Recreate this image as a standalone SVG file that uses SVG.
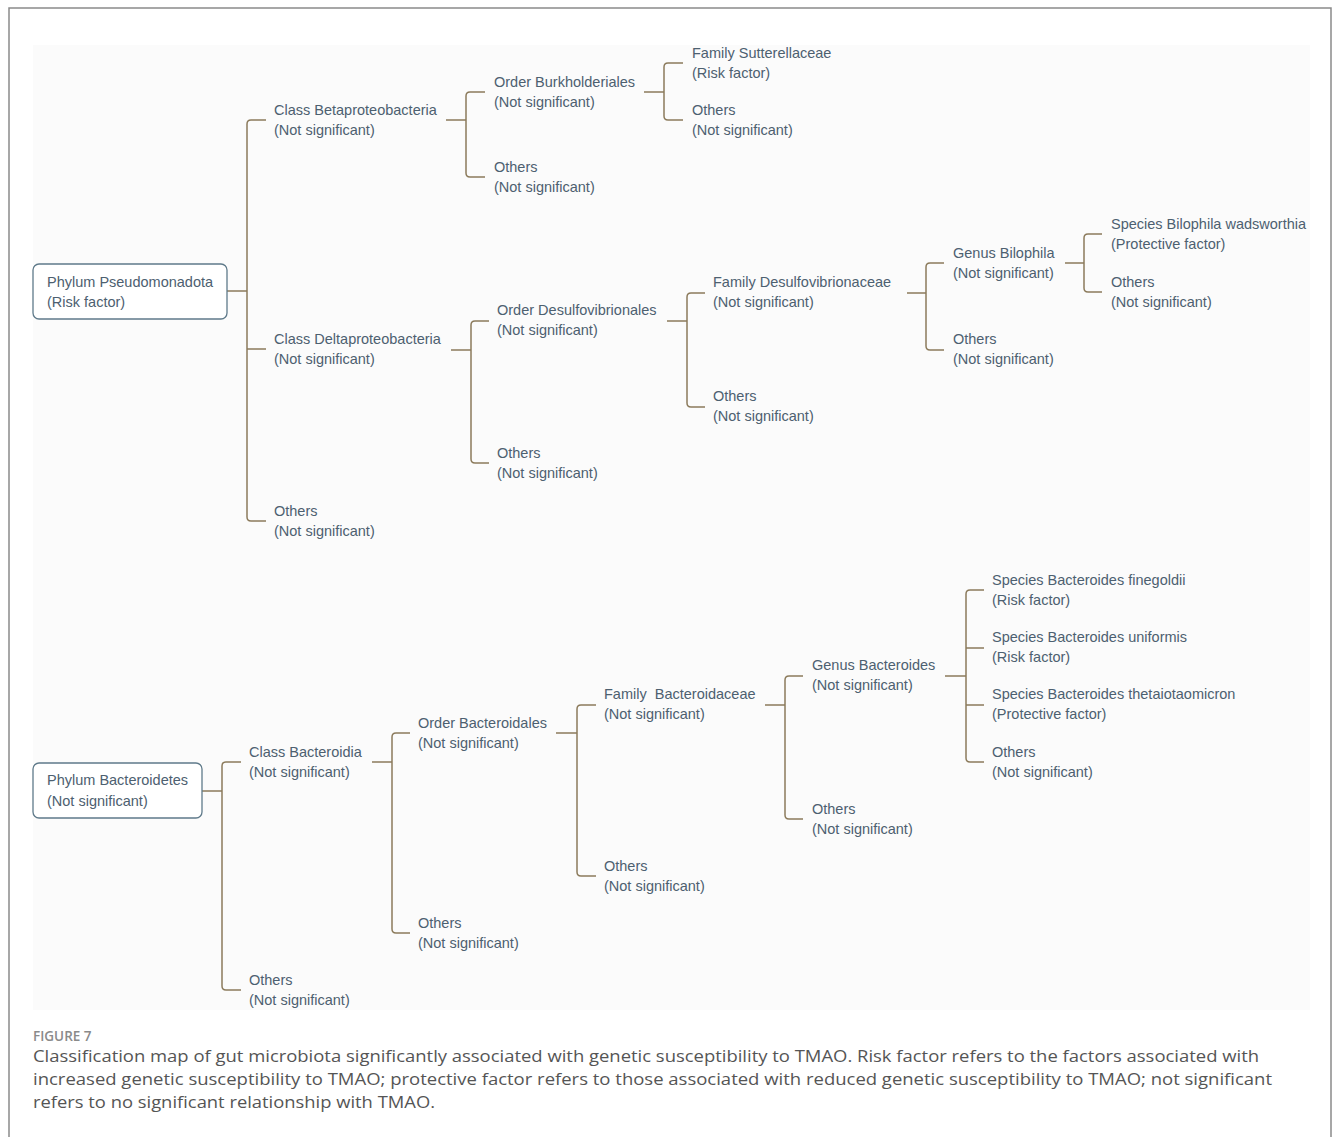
<svg xmlns="http://www.w3.org/2000/svg" width="1333" height="1137" viewBox="0 0 1333 1137">
<style>
.t{font-family:"Liberation Sans",Arial,sans-serif;font-size:14.5px;fill:#4d6070}
.box{fill:#ffffff;stroke:#5f7a8a;stroke-width:1.3}
.c{fill:none;stroke:#8c7b5c;stroke-width:1.5}
.cap{font-family:"Open Sans",sans-serif;font-size:16px;fill:#555555}
.fig{font-family:"Open Sans",sans-serif;font-size:13.5px;font-weight:600;fill:#8a8a8a}
</style>
<rect x="0" y="0" width="1333" height="1137" fill="#ffffff"/>
<path d="M9,1137 V8 H1331 V1137" fill="none" stroke="#8a8a8a" stroke-width="1.5"/>
<rect x="33" y="45" width="1277" height="965" fill="#fbfbfb"/>

<g id="connectors">
<!-- Phylum Pseudomonadota -->
<path class="c" d="M227,291 H247 M266,120 H251 Q247,120 247,124 V517 Q247,521 251,521 H266 M247,349 H266"/>
<!-- Class Betaproteobacteria -->
<path class="c" d="M446,120 H466 M485,92 H470 Q466,92 466,96 V173 Q466,177 470,177 H485"/>
<!-- Order Burkholderiales -->
<path class="c" d="M644,92 H664 M683,63 H668 Q664,63 664,67 V116 Q664,120 668,120 H683"/>
<!-- Class Deltaproteobacteria -->
<path class="c" d="M451,350 H471 M489,321 H475 Q471,321 471,325 V459 Q471,463 475,463 H489"/>
<!-- Order Desulfovibrionales -->
<path class="c" d="M667,321 H687 M705,293 H691 Q687,293 687,297 V403 Q687,407 691,407 H705"/>
<!-- Family Desulfovibrionaceae -->
<path class="c" d="M907,293 H926 M944,263 H930 Q926,263 926,267 V346 Q926,350 930,350 H944"/>
<!-- Genus Bilophila -->
<path class="c" d="M1065,263 H1084 M1102,234 H1088 Q1084,234 1084,238 V288 Q1084,292 1088,292 H1102"/>
<!-- Phylum Bacteroidetes -->
<path class="c" d="M202,791 H222 M241,762 H226 Q222,762 222,766 V986 Q222,990 226,990 H241"/>
<!-- Class Bacteroidia -->
<path class="c" d="M372,762 H392 M410,733 H396 Q392,733 392,737 V929 Q392,933 396,933 H410"/>
<!-- Order Bacteroidales -->
<path class="c" d="M556,733 H577 M596,705 H581 Q577,705 577,709 V872 Q577,876 581,876 H596"/>
<!-- Family Bacteroidaceae -->
<path class="c" d="M765,705 H785 M803,676 H789 Q785,676 785,680 V815 Q785,819 789,819 H803"/>
<!-- Genus Bacteroides -->
<path class="c" d="M945,676 H966 M984,590 H970 Q966,590 966,594 V758 Q966,762 970,762 H984 M966,648 H984 M966,705 H984"/>
</g>

<g id="phylum-pseudomonadota">
<rect class="box" x="33" y="264" width="194" height="55" rx="6"/>
<text class="t" x="47" y="287">Phylum Pseudomonadota</text>
<text class="t" x="47" y="307">(Risk factor)</text>
</g>
<g id="class-betaproteobacteria">
<text class="t" x="274" y="115">Class Betaproteobacteria</text>
<text class="t" x="274" y="135">(Not significant)</text>
</g>
<g id="class-deltaproteobacteria">
<text class="t" x="274" y="344">Class Deltaproteobacteria</text>
<text class="t" x="274" y="364">(Not significant)</text>
</g>
<g id="pseudomonadota-others">
<text class="t" x="274" y="516">Others</text>
<text class="t" x="274" y="536">(Not significant)</text>
</g>
<g id="order-burkholderiales">
<text class="t" x="494" y="87">Order Burkholderiales</text>
<text class="t" x="494" y="107">(Not significant)</text>
</g>
<g id="betaproteobacteria-others">
<text class="t" x="494" y="172">Others</text>
<text class="t" x="494" y="192">(Not significant)</text>
</g>
<g id="family-sutterellaceae">
<text class="t" x="692" y="58">Family Sutterellaceae</text>
<text class="t" x="692" y="78">(Risk factor)</text>
</g>
<g id="burkholderiales-others">
<text class="t" x="692" y="115">Others</text>
<text class="t" x="692" y="135">(Not significant)</text>
</g>
<g id="order-desulfovibrionales">
<text class="t" x="497" y="315">Order Desulfovibrionales</text>
<text class="t" x="497" y="335">(Not significant)</text>
</g>
<g id="deltaproteobacteria-others">
<text class="t" x="497" y="458">Others</text>
<text class="t" x="497" y="478">(Not significant)</text>
</g>
<g id="family-desulfovibrionaceae">
<text class="t" x="713" y="287">Family Desulfovibrionaceae</text>
<text class="t" x="713" y="307">(Not significant)</text>
</g>
<g id="desulfovibrionales-others">
<text class="t" x="713" y="401">Others</text>
<text class="t" x="713" y="421">(Not significant)</text>
</g>
<g id="genus-bilophila">
<text class="t" x="953" y="258">Genus Bilophila</text>
<text class="t" x="953" y="278">(Not significant)</text>
</g>
<g id="desulfovibrionaceae-others">
<text class="t" x="953" y="344">Others</text>
<text class="t" x="953" y="364">(Not significant)</text>
</g>
<g id="species-bilophila-wadsworthia">
<text class="t" x="1111" y="229">Species Bilophila wadsworthia</text>
<text class="t" x="1111" y="249">(Protective factor)</text>
</g>
<g id="bilophila-others">
<text class="t" x="1111" y="287">Others</text>
<text class="t" x="1111" y="307">(Not significant)</text>
</g>

<g id="phylum-bacteroidetes">
<rect class="box" x="33" y="763" width="169" height="55" rx="6"/>
<text class="t" x="47" y="785">Phylum Bacteroidetes</text>
<text class="t" x="47" y="806">(Not significant)</text>
</g>
<g id="class-bacteroidia">
<text class="t" x="249" y="757">Class Bacteroidia</text>
<text class="t" x="249" y="777">(Not significant)</text>
</g>
<g id="bacteroidetes-others">
<text class="t" x="249" y="985">Others</text>
<text class="t" x="249" y="1005">(Not significant)</text>
</g>
<g id="order-bacteroidales">
<text class="t" x="418" y="728">Order Bacteroidales</text>
<text class="t" x="418" y="748">(Not significant)</text>
</g>
<g id="bacteroidia-others">
<text class="t" x="418" y="928">Others</text>
<text class="t" x="418" y="948">(Not significant)</text>
</g>
<g id="family-bacteroidaceae">
<text class="t" x="604" y="699" style="white-space:pre">Family  Bacteroidaceae</text>
<text class="t" x="604" y="719">(Not significant)</text>
</g>
<g id="bacteroidales-others">
<text class="t" x="604" y="871">Others</text>
<text class="t" x="604" y="891">(Not significant)</text>
</g>
<g id="genus-bacteroides">
<text class="t" x="812" y="670">Genus Bacteroides</text>
<text class="t" x="812" y="690">(Not significant)</text>
</g>
<g id="bacteroidaceae-others">
<text class="t" x="812" y="814">Others</text>
<text class="t" x="812" y="834">(Not significant)</text>
</g>
<g id="species-bacteroides-finegoldii">
<text class="t" x="992" y="585">Species Bacteroides finegoldii</text>
<text class="t" x="992" y="605">(Risk factor)</text>
</g>
<g id="species-bacteroides-uniformis">
<text class="t" x="992" y="642">Species Bacteroides uniformis</text>
<text class="t" x="992" y="662">(Risk factor)</text>
</g>
<g id="species-bacteroides-thetaiotaomicron">
<text class="t" x="992" y="699">Species Bacteroides thetaiotaomicron</text>
<text class="t" x="992" y="719">(Protective factor)</text>
</g>
<g id="bacteroides-others">
<text class="t" x="992" y="757">Others</text>
<text class="t" x="992" y="777">(Not significant)</text>
</g>

<g id="caption">
<text class="fig" x="33" y="1041">FIGURE 7</text>
<text class="cap" x="33" y="1062" textLength="1226" lengthAdjust="spacingAndGlyphs">Classification map of gut microbiota significantly associated with genetic susceptibility to TMAO. Risk factor refers to the factors associated with</text>
<text class="cap" x="33" y="1085" textLength="1239" lengthAdjust="spacingAndGlyphs">increased genetic susceptibility to TMAO; protective factor refers to those associated with reduced genetic susceptibility to TMAO; not significant</text>
<text class="cap" x="33" y="1108" textLength="402" lengthAdjust="spacingAndGlyphs">refers to no significant relationship with TMAO.</text>
</g>
</svg>
